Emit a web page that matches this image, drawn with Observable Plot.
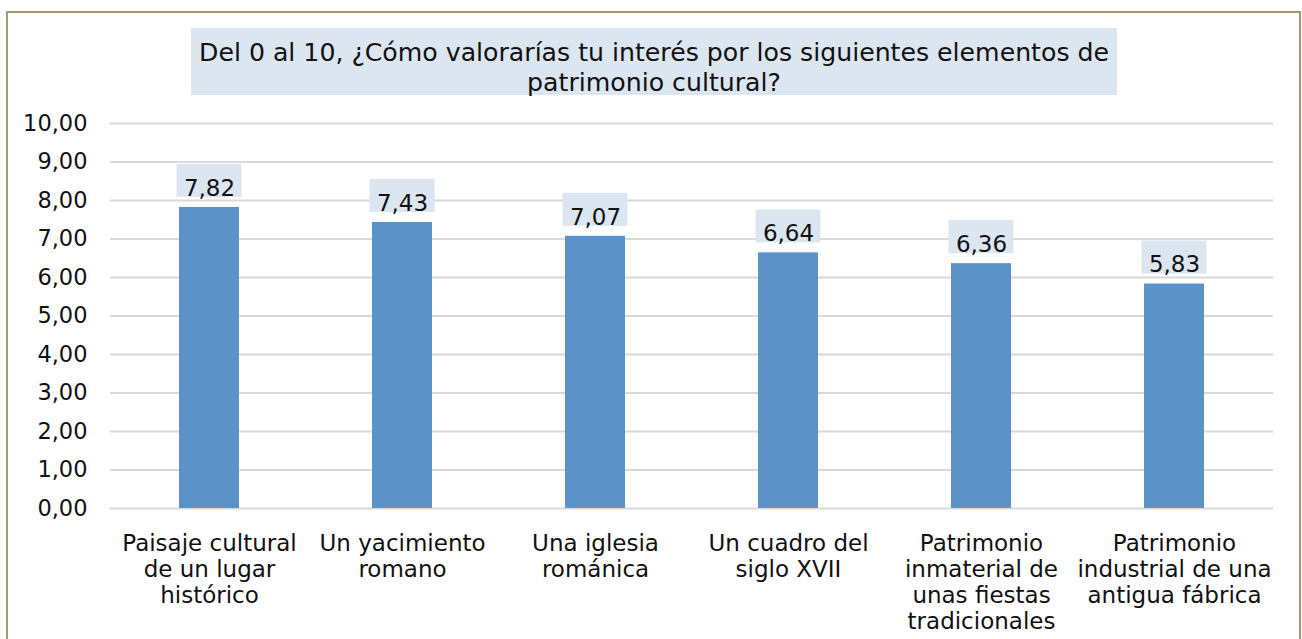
<!DOCTYPE html>
<html><head><meta charset="utf-8">
<script src="https://cdn.jsdelivr.net/npm/d3@7"></script>
<script src="https://cdn.jsdelivr.net/npm/@observablehq/plot@0.6"></script>
<style>
body{margin:0;background:#fff;overflow:hidden;font-family:"DejaVu Sans",Verdana,sans-serif;}
#wrap{position:relative;width:1302px;height:639px;overflow:hidden;background:#fff;}
#frame{position:absolute;left:6px;top:11px;width:1291px;height:700px;border:2px solid #A09A70;}
#chart{position:absolute;left:0;top:0;}
#title{position:absolute;left:191px;top:28px;width:926px;height:67px;background:#DCE6F1;text-align:center;font-size:25.2px;line-height:30px;color:#111;box-sizing:border-box;padding-top:10px;white-space:nowrap;}
</style></head>
<body>
<div id="wrap">
<div id="frame"></div>
<div id="chart"></div>
<div id="title">Del 0 al 10, ¿Cómo valorarías tu interés por los siguientes elementos de<br>patrimonio cultural?</div>
</div>
<script>
const categories = [
  "Paisaje cultural\nde un lugar\nhistórico",
  "Un yacimiento\nromano",
  "Una iglesia\nrománica",
  "Un cuadro del\nsiglo XVII",
  "Patrimonio\ninmaterial de\nunas fiestas\ntradicionales",
  "Patrimonio\nindustrial de una\nantigua fábrica"
];
const values = [7.82, 7.43, 7.07, 6.64, 6.36, 5.83];
const yTicks = [0, 1, 2, 3, 4, 5, 6, 7, 8, 9, 10];

const fmt = d => d.toFixed(2).replace(".", ",");
const data = categories.map((c, i) => ({category: c, value: values[i]}));

const chart = Plot.plot({
  width: 1302, height: 639,
  marginLeft: 110, marginRight: 29, marginTop: 123, marginBottom: 131,
  style: {fontFamily: "'DejaVu Sans', Verdana, sans-serif", fontSize: "22px", background: "transparent", color: "#111"},
  x: {domain: categories, paddingInner: 0.69, paddingOuter: 0.345, label: null},
  y: {domain: [0, 10], label: null},
  marks: [
    Plot.ruleY(yTicks, {stroke: "#D9D9D9", strokeWidth: 2}),
    Plot.barY(data, {x: "category", y: "value", fill: "#5B93C8"}),
    Plot.rect(data, {x: "category", y1: "value", y2: "value", fill: "#DCE6F1", insetTop: -43, insetBottom: 10, insetLeft: -2.5, insetRight: -2.5}),
    Plot.text(data, {x: "category", y: "value", text: d => fmt(d.value), dy: -19, fontSize: 23, fill: "#111"}),
    Plot.axisY({ticks: yTicks, tickSize: 0, tickPadding: 23, tickFormat: fmt, fontSize: 22.5, label: null}),
    Plot.axisX({tickSize: 0, tickPadding: 24, fontSize: 23, lineHeight: 1.13, label: null})
  ]
});
document.getElementById("chart").appendChild(chart);
</script>
</body></html>
